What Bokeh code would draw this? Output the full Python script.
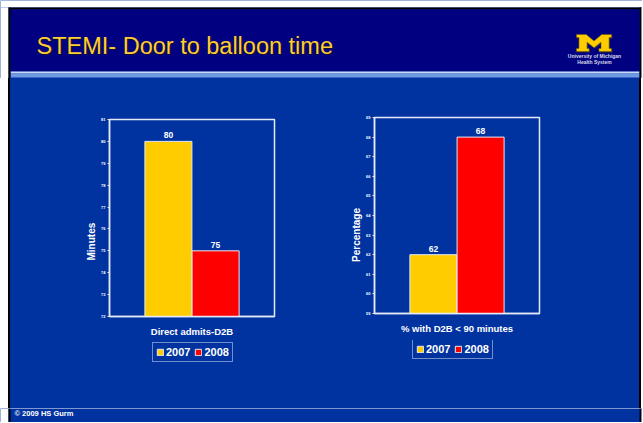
from bokeh.plotting import figure
from bokeh.layouts import column, row
from bokeh.models import (ColumnDataSource, Range1d, FactorRange, FixedTicker,
                          LabelSet, Legend, LegendItem, Div)
from bokeh.transform import dodge
from bokeh.core.properties import value
from bokeh.embed import file_html
from bokeh.resources import INLINE

# ---------------- data ----------------
title_text = "STEMI- Door to balloon time"
years = ["2007", "2008"]
year_colors = ["#FFCC00", "#FF0000"]

chart1_category = "Direct admits-D2B"
chart1_values = [80, 75]
chart1_axis_title = "Minutes"
chart1_ticks = [72, 73, 74, 75, 76, 77, 78, 79, 80, 81]

chart2_category = "% with D2B < 90 minutes"
chart2_values = [62, 68]
chart2_axis_title = "Percentage"
chart2_ticks = [59, 60, 61, 62, 63, 64, 65, 66, 67, 68, 69]

footer_text = "\u00a9 2009 HS Gurm"
logo_lines = ["University of Michigan", "Health System"]

# ---------------- style ----------------
BODY = "#0033A0"
NAVY = "#000080"
FRAME = "#E4EAF6"
FONT = "Liberation Sans"
TOTAL_W = 642
HEADER_H = 78
ROW_H = 330
CHART_H = 262
FOOTER_H = 14
NBSP = "\u00a0"


def pixel_fig(w, h):
    f = figure(width=w, height=h, x_range=Range1d(0, w), y_range=Range1d(0, h),
               min_border=0, output_backend="svg", toolbar_location=None,
               x_axis_location=None, y_axis_location=None)
    f.grid.visible = False
    f.outline_line_color = None
    f.background_fill_color = BODY
    f.border_fill_color = BODY
    return f


def side_borders(f, w, top):
    f.quad(left=0, right=8, bottom=0, top=top, fill_color="white", line_color=None)
    f.quad(left=8, right=10, bottom=0, top=top, fill_color="black", line_color=None)
    f.quad(left=639, right=641, bottom=0, top=top, fill_color="black", line_color=None)
    f.quad(left=641, right=w, bottom=0, top=top, fill_color="white", line_color=None)


def make_chart(category, vals, ticks, ytitle, title_pad, width, height,
               bl, br, bt, bb, xlab_standoff):
    p = figure(width=width, height=height,
               x_range=FactorRange(factors=[category]),
               y_range=Range1d(ticks[0], ticks[-1]),
               output_backend="svg", toolbar_location=None,
               min_border_left=bl, min_border_right=br,
               min_border_top=bt, min_border_bottom=bb)
    p.background_fill_color = BODY
    p.border_fill_color = BODY
    p.outline_line_color = FRAME
    p.outline_line_width = 1.5
    p.grid.visible = False

    offsets = [-0.143, 0.143]
    for v, c, off in zip(vals, year_colors, offsets):
        s = ColumnDataSource(dict(cat=[category], val=[v], lab=[str(v)],
                                  base=[ticks[0]]))
        p.vbar(x=dodge("cat", off, range=p.x_range), top="val",
               bottom="base", width=0.285, source=s, fill_color=c,
               line_color=FRAME, line_width=1)
        lbl = LabelSet(x=dodge("cat", off, range=p.x_range), y="val",
                       text="lab", source=s, text_align="center",
                       text_baseline="bottom", y_offset=3,
                       text_color="white", text_font_size="8.5px",
                       text_font_style="bold", text_font=value(FONT))
        p.add_layout(lbl)

    yax = p.yaxis[0]
    yax.ticker = FixedTicker(ticks=ticks)
    yax.axis_label = ytitle + NBSP * title_pad
    yax.axis_label_text_color = "white"
    yax.axis_label_text_font = FONT
    yax.axis_label_text_font_size = "10px"
    yax.axis_label_text_font_style = "bold"
    yax.axis_label_standoff = 1
    yax.major_label_text_font_size = "4px"
    yax.major_label_text_color = "white"
    yax.major_label_text_font_style = "bold"
    yax.major_label_text_font = FONT
    yax.major_label_standoff = 2
    yax.major_tick_out = 2
    yax.major_tick_in = 0
    yax.major_tick_line_color = FRAME
    yax.minor_tick_line_color = None
    yax.axis_line_color = FRAME
    yax.axis_line_width = 1.5

    xax = p.xaxis[0]
    xax.major_label_text_font_size = "9.5px"
    xax.major_label_text_color = "white"
    xax.major_label_text_font_style = "bold"
    xax.major_label_text_font = FONT
    xax.major_label_standoff = xlab_standoff
    xax.major_tick_line_color = None
    xax.axis_line_color = FRAME
    xax.axis_line_width = 1.5
    return p


def make_legend_fig(width, height, loc):
    # frame of this figure is aligned with the chart frame above it
    lf = pixel_fig(width, height)
    items = []
    for yr, c in zip(years, year_colors):
        r = lf.vbar(x=[float("nan")], top=[float("nan")], width=1,
                    fill_color=c, line_color=FRAME, line_width=1)
        items.append(LegendItem(label=yr, renderers=[r]))
    leg = Legend(items=items, orientation="horizontal", location=loc)
    leg.border_line_color = FRAME
    leg.border_line_width = 1
    leg.background_fill_alpha = 0
    leg.label_text_color = "white"
    leg.label_text_font = FONT
    leg.label_text_font_size = "11px"
    leg.label_text_font_style = "bold"
    leg.glyph_width = 8
    leg.glyph_height = 8
    leg.label_standoff = 2
    leg.label_height = 12
    leg.spacing = 4
    leg.padding = 3
    leg.margin = 0
    lf.add_layout(leg)
    return lf


# ---------------- header ----------------
h = pixel_fig(TOTAL_W, HEADER_H)
h.quad(left=0, right=TOTAL_W, bottom=71, top=HEADER_H, fill_color="white", line_color=None)
h.quad(left=8, right=641, bottom=69, top=71, fill_color="black", line_color=None)
h.quad(left=10, right=639, bottom=7, top=69, fill_color=NAVY, line_color=None)
h.quad(left=10, right=639, bottom=5, top=7, fill_color="#C9D9F8", line_color=None)
h.quad(left=10, right=639, bottom=1, top=5, fill_color="#7099E4", line_color=None)
side_borders(h, TOTAL_W, 71)

h.text(x=[37.5], y=[31.5], text=[title_text], text_font=value(FONT),
       text_font_size="23.5px", text_color="#101030", text_baseline="middle")
h.text(x=[36], y=[33], text=[title_text], text_font=value(FONT),
       text_font_size="23.5px", text_color="#FFCC33", text_baseline="middle")

# block "M" logo (decoration), drawn as a polygon in header pixels
mx = [0, .36, .36, .30, .30, .5, .70, .70, .64, .64, 1, 1, .93, .93, 1, 1,
      .72, .5, .28, 0, 0, .07, .07, 0]
my = [0, 0, .18, .18, .55, .22, .55, .18, .18, 0, 0, .18, .18, .82, .82, 1,
      1, .62, 1, 1, .82, .82, .18, .18]
h.patch(x=[576 + 35 * v + 1 for v in mx], y=[27 + 17 * v - 1 for v in my],
        fill_color="#2A2A40", line_color=None)
h.patch(x=[576 + 35 * v for v in mx], y=[27 + 17 * v for v in my],
        fill_color="#FFCC00", line_color="#6B5A10", line_width=0.6)
h.text(x=[594, 594], y=[23, 17], text=logo_lines, text_font=value(FONT),
       text_font_size="5px", text_font_style="bold", text_color="#D8DCE8",
       text_align="center", text_baseline="middle")

# ---------------- charts ----------------
c1 = make_chart(chart1_category, chart1_values, chart1_ticks, chart1_axis_title,
                17, 315, CHART_H, 99, 51, 41, 24, 3)
c2 = make_chart(chart2_category, chart2_values, chart2_ticks, chart2_axis_title,
                14, 314, CHART_H, 49, 100, 39, 27, 3)
l1 = make_legend_fig(315, ROW_H - CHART_H, (43, 46))
l2 = make_legend_fig(314, ROW_H - CHART_H, (38, 49))

strip_w = Div(width=8, height=ROW_H, margin=0, styles={"background-color": "white"})
strip_b = Div(width=2, height=ROW_H, margin=0, styles={"background-color": "black"})
strip_rb = Div(width=2, height=ROW_H, margin=0, styles={"background-color": "black"})
strip_rw = Div(width=1, height=ROW_H, margin=0, styles={"background-color": "white"})

# ---------------- footer ----------------
ft = pixel_fig(TOTAL_W, FOOTER_H)
side_borders(ft, TOTAL_W, FOOTER_H)
ft.text(x=[14], y=[9], text=[footer_text], text_font=value(FONT),
        text_font_size="7.5px", text_font_style="bold", text_color="white",
        text_baseline="middle")

chart_row = row(strip_w, strip_b,
                column(c1, l1, spacing=0), column(c2, l2, spacing=0),
                strip_rb, strip_rw, spacing=0,
                styles={"background-color": BODY})
p = column(h, chart_row, ft, spacing=0)

open("out.html", "w").write(file_html(p, INLINE))
